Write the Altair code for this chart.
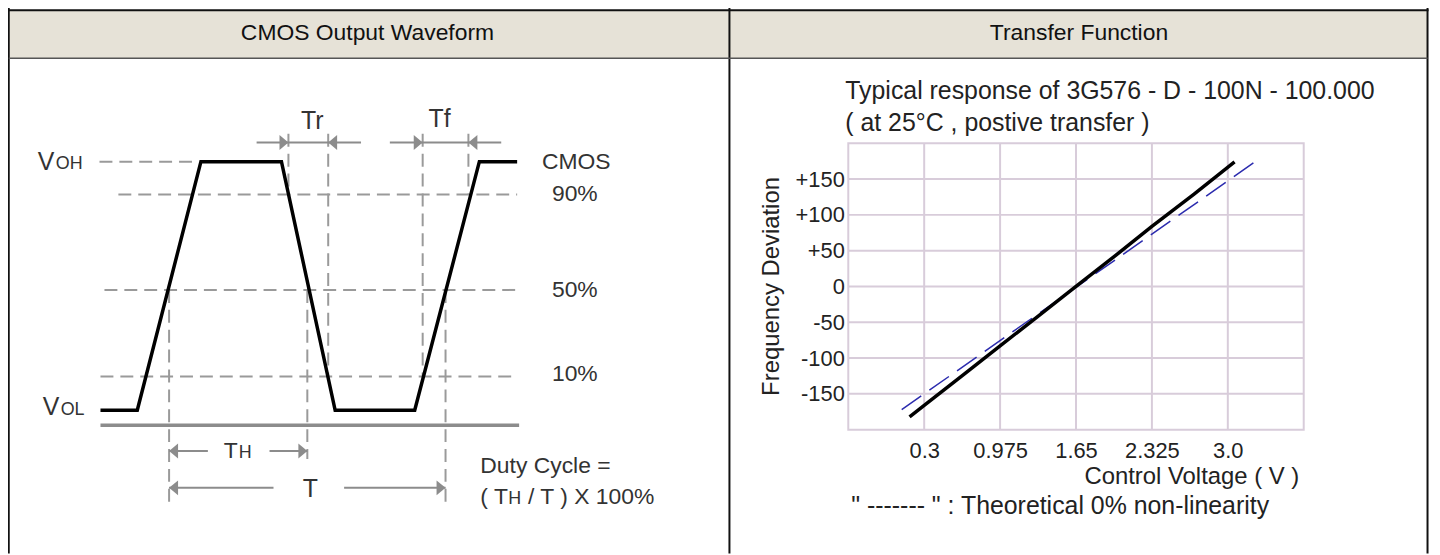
import altair as alt
import pandas as pd

# ------------------------------------------------------------------
# Values
# ------------------------------------------------------------------
HEADER_TITLES = ["CMOS Output Waveform", "Transfer  Function"]

# Left panel: schematic CMOS output waveform (time in arbitrary units, level in % of swing)
WAVE_T = [0, 3.7, 10.1, 18.2, 23.6, 31.6, 38.1, 41.9]
WAVE_LEVEL = [0, 0, 100, 100, 0, 0, 100, 100]

REF_LEVEL = [100, 86.8, 48.4, 13.6]          # VOH, 90 %, 50 %, 10 % reference lines
REF_T_START = [-0.1, 1.8, 0.4, 0.0]
REF_T_END = [9.6, 41.9, 41.9, 41.9]

GROUND_LEVEL = [-6.0]
GROUND_T_START = [0.0]
GROUND_T_END = [42.1]

MARKER_T = [6.9, 18.9, 20.8, 22.9, 32.4, 34.7, 37.0]
MARKER_TOP = [48.4, 111.2, 48.4, 111.2, 111.2, 48.4, 111.2]
MARKER_BOTTOM = [-36.8, 86.8, -19.6, 13.6, 13.6, -36.8, 86.8]

ARROW_LEVEL = [107.7, 107.7, -16.4, -16.4, -31.2, -31.2]
ARROW_T_START = [15.7, 29.1, 6.9, 17.0, 6.9, 24.5]
ARROW_T_END = [26.2, 40.3, 10.8, 20.8, 17.4, 34.7]
HEAD_RIGHT_T = [18.9, 32.4, 20.8, 34.7]
HEAD_RIGHT_LEVEL = [107.7, 107.7, -16.4, -31.2]
HEAD_LEFT_T = [22.9, 37.0, 6.9, 6.9]
HEAD_LEFT_LEVEL = [107.7, 107.7, -16.4, -31.2]

LABEL_TEXT = ["CMOS", "90%", "50%", "10%", "Duty Cycle =", "( T", "/ T ) X 100%", "T"]
LABEL_T = [44.4, 45.4, 45.4, 45.4, 38.2, 38.2, 43.0, 12.4]
LABEL_LEVEL = [100, 86.8, 48.4, 14.4, -22.4, -34.8, -34.8, -16.4]

TIME_TEXT = ["Tr", "Tf", "T"]
TIME_T = [21.3, 34.1, 21.1]
TIME_LEVEL = [116.4, 117.2, -31.6]

V_TEXT = ["V", "V"]
V_T = [-6.3, -5.8]
V_LEVEL = [100, 1.2]

SUB_TEXT = ["OH", "OL", "H", "H"]
SUB_T = [-4.5, -4.0, 13.9, 41.0]
SUB_LEVEL = [97.0, -1.8, -19.2, -37.6]

# Right panel: transfer function
TRANSFER_TITLE = ["Typical response of 3G576 - D - 100N - 100.000",
                  "( at 25°C , postive transfer )"]
NOTE = '" ------- " : Theoretical 0% non-linearity'
X_TITLE = "Control Voltage ( V )"
Y_TITLE = "Frequency  Deviation"

VOLT_DOMAIN = [-0.375, 3.675]
DEV_DOMAIN = [-200, 200]
VOLT_TICKS = [0.3, 0.975, 1.65, 2.325, 3.0]
VOLT_TICK_LABELS = ["0.3", "0.975", "1.65", "2.325", "3.0"]
DEV_TICKS = [-150, -100, -50, 0, 50, 100, 150]
DEV_TICK_LABELS = ["-150", "-100", "-50", "0", "+50", "+100", "+150"]

MEASURED_V = [0.17, 0.30, 0.65, 0.975, 1.30, 1.65, 2.00, 2.325, 2.70, 3.06]
MEASURED_DEV = [-182, -166, -123, -83, -43, 0, 43, 84, 129, 174]
THEORY_V = [0.10, 3.25]
THEORY_DEV = [-172, 175]

# ------------------------------------------------------------------
# Layout (page pixels) and styles
# ------------------------------------------------------------------
MARGIN = 8
PAGE_W, PAGE_H = 1440, 555
CW, CH = PAGE_W - MARGIN, PAGE_H - MARGIN

TABLE_LEFT, TABLE_TOP, TABLE_RIGHT = 8.75, 8.75, 1435.5
DIVIDER, HEADER_BOTTOM = 733.5, 57.0
HEADER_CENTERS = [369.5, 1085.0]
HEADER_MID = 31.5

WAVE_PX = (101, 521)       # t 0..42
WAVE_PY = (411, 161)       # level 0..100
PLOT_L, PLOT_R, PLOT_T, PLOT_B = 853, 1311, 142.5, 430.5

FONT = "Liberation Sans"
BEIGE = "#E6E2D7"
GRID = "#D8CCDA"
DASH_GREY = "#9A9A9A"
ARROW_GREY = "#8C8C8C"
TEXT_L = "#333333"
TEXT_R = "#222222"
BLUE = "#2B2BAE"


def sc(domain, p0, p1):
    return alt.Scale(domain=list(domain), range=[p0 - MARGIN, p1 - MARGIN], zero=False, nice=False)


PAGE_XS = sc([0, PAGE_W], 0, PAGE_W)
PAGE_YS = sc([0, PAGE_H], 0, PAGE_H)
WAVE_XS = sc([0, 42], *WAVE_PX)
WAVE_YS = sc([0, 100], *WAVE_PY)
PLOT_XS = sc(VOLT_DOMAIN, PLOT_L, PLOT_R)
PLOT_YS = sc(DEV_DOMAIN, PLOT_B, PLOT_T)


def enc(xs, ys, x, y, x2=None, y2=None, **extra):
    d = dict(x=alt.X(x, type="quantitative", scale=xs, axis=None),
             y=alt.Y(y, type="quantitative", scale=ys, axis=None))
    if x2:
        d["x2"] = alt.X2(x2)
    if y2:
        d["y2"] = alt.Y2(y2)
    d.update(extra)
    return d


def lookup_expr(values, labels):
    return ("[" + ",".join("'%s'" % s for s in labels) + "][indexof(["
            + ",".join(str(v) for v in values) + "], datum.value)]")


layers = []

# ---------------- table frame ----------------
layers.append(alt.Chart(pd.DataFrame({"x0": [TABLE_LEFT], "x1": [TABLE_RIGHT],
                                      "y0": [TABLE_TOP], "y1": [HEADER_BOTTOM]}))
              .mark_rect(color=BEIGE)
              .encode(**enc(PAGE_XS, PAGE_YS, "x0", "y0", "x1", "y1")))
layers.append(alt.Chart(pd.DataFrame({"x": [TABLE_LEFT, DIVIDER, TABLE_RIGHT],
                                      "y0": [0, 0, 0], "y1": [PAGE_H] * 3}))
              .mark_rule(color="#111111", strokeWidth=2)
              .encode(**enc(PAGE_XS, PAGE_YS, "x", "y0", None, "y1")))
layers.append(alt.Chart(pd.DataFrame({"y": [TABLE_TOP], "x0": [0], "x1": [TABLE_RIGHT + 1]}))
              .mark_rule(color="#111111", strokeWidth=2)
              .encode(**enc(PAGE_XS, PAGE_YS, "x0", "y", "x1")))
layers.append(alt.Chart(pd.DataFrame({"y": [HEADER_BOTTOM], "x0": [TABLE_LEFT], "x1": [TABLE_RIGHT]}))
              .mark_rule(color="#555555", strokeWidth=1.5)
              .encode(**enc(PAGE_XS, PAGE_YS, "x0", "y", "x1")))
layers.append(alt.Chart(pd.DataFrame({"label": HEADER_TITLES, "x": HEADER_CENTERS,
                                      "y": [HEADER_MID] * 2}))
              .mark_text(font=FONT, fontSize=23, align="center", baseline="middle", color="#111111")
              .encode(**enc(PAGE_XS, PAGE_YS, "x", "y", text=alt.Text("label:N"))))

# ---------------- left panel: waveform ----------------
layers.append(alt.Chart(pd.DataFrame({"level": REF_LEVEL, "t0": REF_T_START, "t1": REF_T_END}))
              .mark_rule(color=DASH_GREY, strokeWidth=2, strokeDash=[13, 7])
              .encode(**enc(WAVE_XS, WAVE_YS, "t0", "level", "t1")))
layers.append(alt.Chart(pd.DataFrame({"t": MARKER_T, "top": MARKER_TOP, "bottom": MARKER_BOTTOM}))
              .mark_rule(color=DASH_GREY, strokeWidth=2, strokeDash=[13, 7])
              .encode(**enc(WAVE_XS, WAVE_YS, "t", "top", None, "bottom")))
layers.append(alt.Chart(pd.DataFrame({"level": GROUND_LEVEL, "t0": GROUND_T_START, "t1": GROUND_T_END}))
              .mark_rule(color=ARROW_GREY, strokeWidth=3.5)
              .encode(**enc(WAVE_XS, WAVE_YS, "t0", "level", "t1")))
layers.append(alt.Chart(pd.DataFrame({"t": WAVE_T, "level": WAVE_LEVEL, "i": list(range(len(WAVE_T)))}))
              .mark_line(color="#000000", strokeWidth=3.5, strokeJoin="miter")
              .encode(**enc(WAVE_XS, WAVE_YS, "t", "level", order=alt.Order("i:Q"))))
layers.append(alt.Chart(pd.DataFrame({"level": ARROW_LEVEL, "t0": ARROW_T_START, "t1": ARROW_T_END}))
              .mark_rule(color=ARROW_GREY, strokeWidth=2)
              .encode(**enc(WAVE_XS, WAVE_YS, "t0", "level", "t1")))
layers.append(alt.Chart(pd.DataFrame({"t": HEAD_RIGHT_T, "level": HEAD_RIGHT_LEVEL}))
              .mark_point(shape="M0,0L-1.2,-1L-1.2,1Z", size=225, filled=True, color=ARROW_GREY,
                          opacity=1, strokeWidth=0)
              .encode(**enc(WAVE_XS, WAVE_YS, "t", "level")))
layers.append(alt.Chart(pd.DataFrame({"t": HEAD_LEFT_T, "level": HEAD_LEFT_LEVEL}))
              .mark_point(shape="M0,0L1.2,-1L1.2,1Z", size=225, filled=True, color=ARROW_GREY,
                          opacity=1, strokeWidth=0)
              .encode(**enc(WAVE_XS, WAVE_YS, "t", "level")))
layers.append(alt.Chart(pd.DataFrame({"label": LABEL_TEXT, "t": LABEL_T, "level": LABEL_LEVEL}))
              .mark_text(font=FONT, fontSize=23, align="left", baseline="middle", color=TEXT_L)
              .encode(**enc(WAVE_XS, WAVE_YS, "t", "level", text=alt.Text("label:N"))))
layers.append(alt.Chart(pd.DataFrame({"label": TIME_TEXT, "t": TIME_T, "level": TIME_LEVEL}))
              .mark_text(font=FONT, fontSize=25, align="center", baseline="middle", color=TEXT_L)
              .encode(**enc(WAVE_XS, WAVE_YS, "t", "level", text=alt.Text("label:N"))))
layers.append(alt.Chart(pd.DataFrame({"label": V_TEXT, "t": V_T, "level": V_LEVEL}))
              .mark_text(font=FONT, fontSize=25, align="left", baseline="middle", color=TEXT_L)
              .encode(**enc(WAVE_XS, WAVE_YS, "t", "level", text=alt.Text("label:N"))))
layers.append(alt.Chart(pd.DataFrame({"label": SUB_TEXT, "t": SUB_T, "level": SUB_LEVEL}))
              .mark_text(font=FONT, fontSize=18, align="left", baseline="alphabetic", color=TEXT_L)
              .encode(**enc(WAVE_XS, WAVE_YS, "t", "level", text=alt.Text("label:N"))))

# ---------------- right panel: transfer function ----------------
layers.append(alt.Chart(pd.DataFrame({"x0": [VOLT_DOMAIN[0]], "x1": [VOLT_DOMAIN[1]],
                                      "y0": [DEV_DOMAIN[0]], "y1": [DEV_DOMAIN[1]]}))
              .mark_rect(fill="white", stroke=GRID, strokeWidth=2)
              .encode(**enc(PLOT_XS, PLOT_YS, "x0", "y0", "x1", "y1")))
layers.append(alt.Chart(pd.DataFrame({"v": VOLT_TICKS, "y0": [DEV_DOMAIN[0]] * len(VOLT_TICKS),
                                      "y1": [DEV_DOMAIN[1]] * len(VOLT_TICKS)}))
              .mark_rule(color=GRID, strokeWidth=2)
              .encode(**enc(PLOT_XS, PLOT_YS, "v", "y0", None, "y1")))
layers.append(alt.Chart(pd.DataFrame({"d": DEV_TICKS, "x0": [VOLT_DOMAIN[0]] * len(DEV_TICKS),
                                      "x1": [VOLT_DOMAIN[1]] * len(DEV_TICKS)}))
              .mark_rule(color=GRID, strokeWidth=2)
              .encode(**enc(PLOT_XS, PLOT_YS, "x0", "d", "x1")))
layers.append(alt.Chart(pd.DataFrame({"v": THEORY_V, "dev": THEORY_DEV}))
              .mark_line(color=BLUE, strokeWidth=1.5, strokeDash=[24, 10])
              .encode(**enc(PLOT_XS, PLOT_YS, "v", "dev")))

x_axis = alt.Axis(values=VOLT_TICKS, labelExpr=lookup_expr(VOLT_TICKS, VOLT_TICK_LABELS),
                  orient="bottom", offset=(PLOT_B - MARGIN) - CH, domain=False, ticks=False,
                  tickSize=0, grid=False, labelFlush=False, labelPadding=20.5,
                  labelBaseline="middle", labelFont=FONT, labelFontSize=22, labelColor=TEXT_R,
                  title=X_TITLE, titleX=1090 - MARGIN, titleY=478 - PLOT_B, titleAlign="left",
                  titleBaseline="middle", titleFont=FONT, titleFontSize=24,
                  titleFontWeight="normal", titleColor=TEXT_R)
y_axis = alt.Axis(values=DEV_TICKS, labelExpr=lookup_expr(DEV_TICKS, DEV_TICK_LABELS),
                  orient="left", offset=-(PLOT_L - MARGIN), domain=False, ticks=False,
                  tickSize=0, grid=False, labelFlush=False, labelPadding=4,
                  labelBaseline="middle", labelFont=FONT, labelFontSize=22, labelColor=TEXT_R,
                  title=Y_TITLE, titleX=776 - PLOT_L, titleY=286 - MARGIN, titleAngle=270,
                  titleAlign="center", titleBaseline="middle", titleFont=FONT, titleFontSize=24,
                  titleFontWeight="normal", titleColor=TEXT_R)
layers.append(alt.Chart(pd.DataFrame({"v": MEASURED_V, "dev": MEASURED_DEV}))
              .mark_line(color="#000000", strokeWidth=3.5)
              .encode(x=alt.X("v:Q", scale=PLOT_XS, axis=x_axis),
                      y=alt.Y("dev:Q", scale=PLOT_YS, axis=y_axis)))

layers.append(alt.Chart(pd.DataFrame({"label": TRANSFER_TITLE + [NOTE],
                                      "x": [850, 850, 856], "y": [90, 122, 507]}))
              .mark_text(font=FONT, fontSize=25, align="left", baseline="middle", color=TEXT_R)
              .encode(**enc(PAGE_XS, PAGE_YS, "x", "y", text=alt.Text("label:N"))))

chart = (alt.layer(*layers)
         .resolve_scale(x="independent", y="independent")
         .properties(width=CW, height=CH, padding=0,
                     autosize=alt.AutoSizeParams(type="none"), background="white")
         .configure_view(stroke=None))

chart.save("out.html", embed_options={"renderer": "svg", "actions": False})
